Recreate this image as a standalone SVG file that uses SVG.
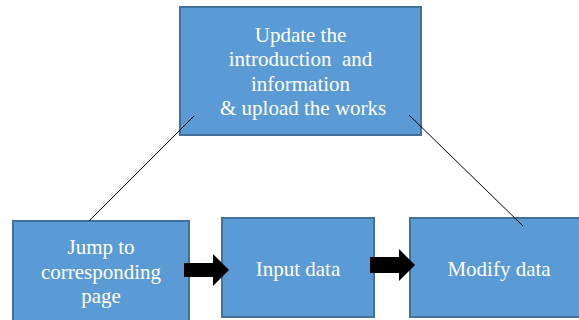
<svg xmlns="http://www.w3.org/2000/svg" width="579" height="320" viewBox="0 0 579 320">
  <style>
    .box { fill: #5B9BD5; stroke: #41719C; stroke-width: 2; }
    .lbl { font-family: "Liberation Serif", "Times New Roman", serif; font-size: 21px; fill: #FFFFFF; text-anchor: middle; white-space: pre; }
    .link { stroke: #000000; stroke-width: 1; fill: none; }
    .arrow { fill: #000000; }
  </style>
  <rect width="579" height="320" fill="#FFFFFF"/>

  <g id="node-update">
    <rect class="box" x="180" y="7" width="241" height="128"/>
    <text class="lbl" xml:space="preserve"><tspan x="300.5" y="42">Update the</tspan><tspan x="300.5" y="66">introduction  and</tspan><tspan x="300.5" y="90.5">information</tspan><tspan x="300.5" y="115"> &amp; upload the works</tspan></text>
  </g>

  <g id="node-jump">
    <rect class="box" x="13" y="221" width="176" height="110"/>
    <text class="lbl"><tspan x="101" y="254">Jump to</tspan><tspan x="101" y="278.5">corresponding</tspan><tspan x="101" y="302.5">page</tspan></text>
  </g>

  <g id="node-input">
    <rect class="box" x="222" y="218" width="152" height="99"/>
    <text class="lbl" x="298" y="276">Input data</text>
  </g>

  <g id="node-modify">
    <rect class="box" x="410" y="218" width="180" height="99"/>
    <text class="lbl" x="499" y="276">Modify data</text>
  </g>

  <g id="connectors">
    <line class="link" x1="194" y1="116" x2="89" y2="221"/>
    <line class="link" x1="409" y1="115" x2="523" y2="226"/>
    <polygon class="arrow" points="184,263 213,263 213,254 229,270 213,286 213,277 184,277"/>
    <polygon class="arrow" points="370,257 399,257 399,249 415,265 399,281 399,273 370,273"/>
  </g>
</svg>
